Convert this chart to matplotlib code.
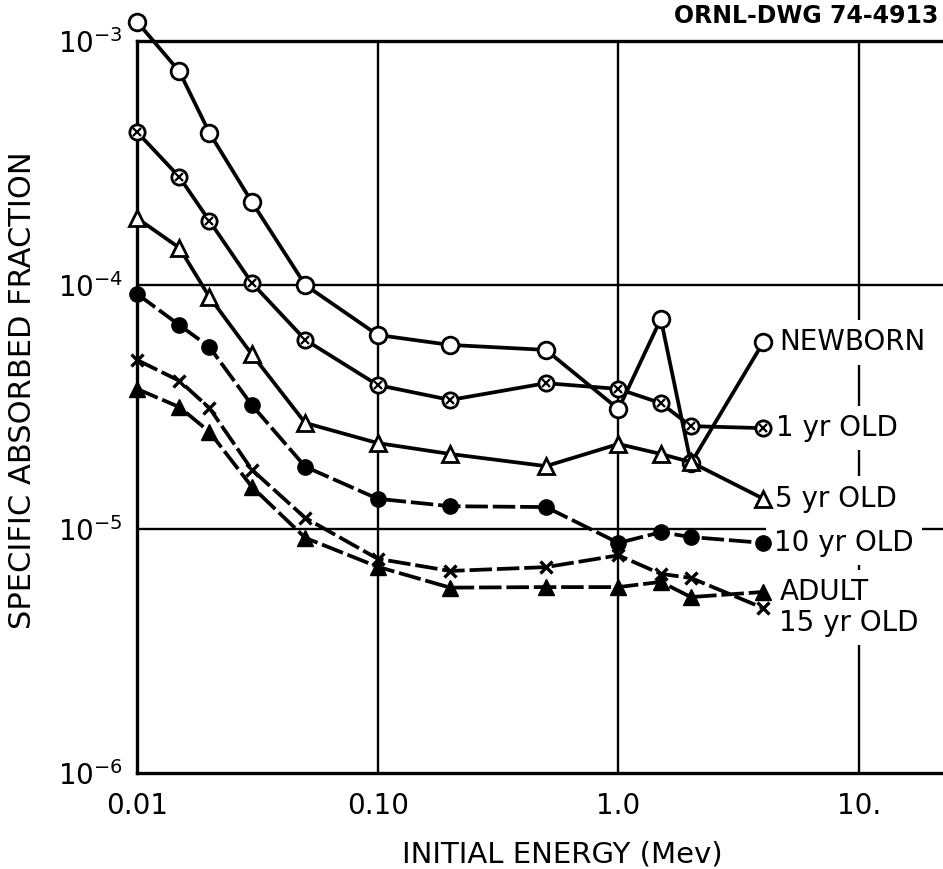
import matplotlib
matplotlib.use("Agg")
import matplotlib.pyplot as plt
from matplotlib.ticker import FixedLocator, FixedFormatter, NullLocator

plt.rcParams['font.family'] = ['DejaVu Sans']
plt.rcParams['mathtext.fontset'] = 'dejavusans'

# ---- data ----
energy = [0.01, 0.015, 0.02, 0.03, 0.05, 0.1, 0.2, 0.5, 1.0, 1.5, 2.0, 4.0]

newborn = [1.2e-3, 7.5e-4, 4.2e-4, 2.19e-4, 1.0e-4, 6.24e-5, 5.68e-5, 5.42e-5,
           3.1e-5, 7.26e-5, 1.86e-5, 5.83e-5]
yr1 = [4.24e-4, 2.77e-4, 1.83e-4, 1.02e-4, 5.96e-5, 3.89e-5, 3.38e-5, 3.96e-5,
       3.75e-5, 3.28e-5, 2.64e-5, 2.59e-5]
yr5 = [1.88e-4, 1.42e-4, 8.93e-5, 5.2e-5, 2.72e-5, 2.25e-5, 2.03e-5, 1.81e-5,
       2.23e-5, 2.03e-5, 1.88e-5, 1.33e-5]
yr10 = [9.2e-5, 6.85e-5, 5.57e-5, 3.22e-5, 1.8e-5, 1.33e-5, 1.24e-5, 1.23e-5,
        8.77e-6, 9.7e-6, 9.27e-6, 8.77e-6]
yr15 = [4.93e-5, 4.05e-5, 3.13e-5, 1.75e-5, 1.11e-5, 7.55e-6, 6.73e-6, 6.98e-6,
        7.8e-6, 6.55e-6, 6.3e-6, 4.74e-6]
adult = [3.75e-5, 3.16e-5, 2.5e-5, 1.49e-5, 9.2e-6, 7.0e-6, 5.75e-6, 5.78e-6,
         5.78e-6, 6.07e-6, 5.26e-6, 5.52e-6]

series_labels = ["NEWBORN", "1 yr OLD", "5 yr OLD", "10 yr OLD", "ADULT", "15 yr OLD"]

xtick_vals = [0.01, 0.1, 1.0, 10.0]
xtick_labels = ["0.01", "0.10", "1.0", "10."]
ytick_vals = [1e-6, 1e-5, 1e-4, 1e-3]
ytick_labels = [r"$10^{-6}$", r"$10^{-5}$", r"$10^{-4}$", r"$10^{-3}$"]

# ---- figure ----
W, H = 943, 869
fig = plt.figure(figsize=(W / 100, H / 100), dpi=100)
x0, x1, ytop, ybot = 137, 943, 41, 773
ax = fig.add_axes([x0 / W, 1 - ybot / H, (x1 - x0) / W, (ybot - ytop) / H])
ax.set_xscale('log')
ax.set_yscale('log')
ax.set_xlim(0.01, 22.3)
ax.set_ylim(1e-6, 1e-3)

for s in ['top', 'left', 'bottom']:
    ax.spines[s].set_linewidth(2.4)
ax.spines['right'].set_visible(False)

ax.xaxis.set_major_locator(FixedLocator(xtick_vals))
ax.xaxis.set_major_formatter(FixedFormatter(xtick_labels))
ax.xaxis.set_minor_locator(NullLocator())
ax.yaxis.set_major_locator(FixedLocator(ytick_vals))
ax.yaxis.set_major_formatter(FixedFormatter(ytick_labels))
ax.yaxis.set_minor_locator(NullLocator())
ax.tick_params(axis='both', length=0, labelsize=20)
ax.tick_params(axis='x', pad=14)
ax.tick_params(axis='y', pad=10)

for xv in xtick_vals[1:]:
    ax.axvline(xv, color='black', lw=1.7, zorder=1)
for yv in ytick_vals[1:3]:
    ax.axhline(yv, color='black', lw=1.7, zorder=1)

lw = 2.7
ms = 11
dash = (6, 1.3)

ax.plot(energy, newborn, color='black', lw=lw, marker='o', ms=ms + 1,
        mfc='white', mec='black', mew=2, zorder=4, clip_on=False)
ax.plot(energy, yr1, color='black', lw=lw, marker='o', ms=ms,
        mfc='white', mec='black', mew=2, zorder=4, clip_on=False)
ax.plot(energy, yr1, ls='none', marker='x', ms=ms * 0.55, mec='black', mew=1.6,
        zorder=5, clip_on=False)
ax.plot(energy, yr5, color='black', lw=lw, marker='^', ms=ms,
        mfc='white', mec='black', mew=2, zorder=4, clip_on=False)
ax.plot(energy, yr10, color='black', lw=lw, marker='o', ms=ms,
        mfc='black', mec='black', zorder=4, dashes=dash, clip_on=False)
ax.plot(energy, yr15, color='black', lw=lw, marker='x', ms=ms * 0.85,
        mec='black', mew=2.4, zorder=4, dashes=dash, clip_on=False)
ax.plot(energy, adult, color='black', lw=lw, marker='^', ms=ms,
        mfc='black', mec='black', zorder=4, dashes=dash, clip_on=False)

# series labels placed next to the last point of each curve
label_y = [newborn[-1], yr1[-1], yr5[-1], yr10[-1], adult[-1], yr15[-1] * 0.87]
label_dx = [16, 13, 12, 11, 16, 16]
for txt, yv, dx in zip(series_labels, label_y, label_dx):
    ax.annotate(txt, xy=(energy[-1], yv), xytext=(dx, 0), textcoords='offset pixels',
                ha='left', va='center', fontsize=20, zorder=3,
                bbox=dict(boxstyle='square,pad=0.3', fc='white', ec='none'))

fig.text(562 / W, 1 - 855 / H, "INITIAL ENERGY (Mev)", ha='center', va='center',
         fontsize=21)
fig.text(23 / W, 1 - 390 / H, "SPECIFIC ABSORBED FRACTION", ha='center',
         va='center', rotation=90, fontsize=22)

fig.text(938 / W, 1 - 16 / H, "ORNL-DWG 74-4913", ha='right', va='center',
         fontsize=17, fontweight='bold')

fig.savefig("out.png", dpi=100)
